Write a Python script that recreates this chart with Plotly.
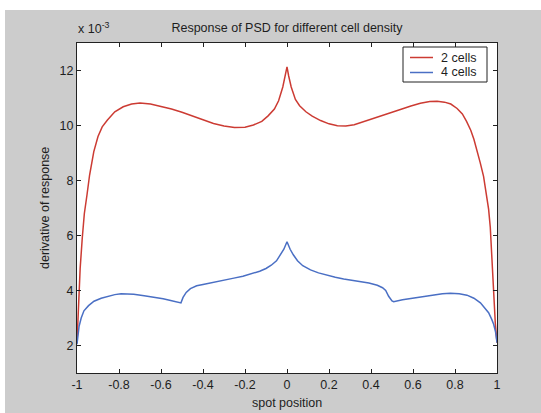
import plotly.graph_objects as go

# ---- data (values in units of 1e-3) ----
red_x = [-1.0, -0.993, -0.985, -0.975, -0.965, -0.952, -0.94, -0.92, -0.9, -0.88,
         -0.855, -0.82, -0.78, -0.74, -0.70, -0.65, -0.60, -0.55, -0.50, -0.45,
         -0.40, -0.35, -0.30, -0.25, -0.20, -0.16, -0.12, -0.09, -0.06, -0.04,
         -0.02, -0.008, 0.0, 0.008, 0.02, 0.04, 0.06, 0.09, 0.12, 0.16,
         0.20, 0.24, 0.28, 0.32, 0.37, 0.43, 0.49, 0.54, 0.59, 0.635,
         0.68, 0.715, 0.75, 0.78, 0.81, 0.835, 0.855, 0.875, 0.89, 0.905,
         0.92, 0.936, 0.95, 0.96, 0.968, 0.976, 0.984, 0.992, 1.0]
red_y = [2.1, 3.5, 4.8, 5.9, 6.8, 7.5, 8.2, 9.05, 9.6, 9.95,
         10.2, 10.5, 10.68, 10.78, 10.82, 10.78, 10.7, 10.6, 10.48, 10.34,
         10.2, 10.07, 9.98, 9.93, 9.94, 10.02, 10.15, 10.35, 10.6, 10.9,
         11.4, 11.8, 12.13, 11.8, 11.4, 10.95, 10.72, 10.5, 10.34, 10.18,
         10.06, 9.99, 9.98, 10.03, 10.15, 10.3, 10.45, 10.58, 10.71, 10.81,
         10.87, 10.88, 10.85, 10.78, 10.62, 10.42, 10.15, 9.83, 9.5, 9.1,
         8.65, 8.15, 7.5, 6.96, 6.3, 5.0, 3.9, 2.8, 2.1]

blue_x = [-1.0, -0.995, -0.99, -0.98, -0.967, -0.945, -0.919, -0.885, -0.855, -0.82,
          -0.79, -0.73, -0.68, -0.634, -0.59, -0.554, -0.52, -0.505, -0.495, -0.48,
          -0.46, -0.43, -0.40, -0.364, -0.33, -0.29, -0.253, -0.21, -0.17, -0.13,
          -0.10, -0.075, -0.05, -0.03, -0.015, 0.0, 0.015, 0.03, 0.05, 0.075,
          0.112, 0.15, 0.19, 0.23, 0.27, 0.31, 0.35, 0.39, 0.43, 0.455,
          0.47, 0.484, 0.50, 0.508, 0.55, 0.59, 0.64, 0.698, 0.74, 0.778,
          0.82, 0.857, 0.89, 0.921, 0.945, 0.96, 0.975, 0.984, 0.993, 1.0]
blue_y = [2.05, 2.5, 2.7, 3.0, 3.26, 3.45, 3.61, 3.72, 3.79, 3.85,
          3.88, 3.86, 3.81, 3.76, 3.7, 3.64, 3.56, 3.55, 3.75, 3.93,
          4.07, 4.17, 4.22, 4.27, 4.32, 4.38, 4.45, 4.52, 4.6, 4.7,
          4.8, 4.92, 5.08, 5.3, 5.5, 5.77, 5.5, 5.3, 5.08, 4.9,
          4.75, 4.64, 4.55, 4.48, 4.42, 4.37, 4.32, 4.27, 4.19, 4.1,
          4.0, 3.79, 3.62, 3.59, 3.66, 3.71, 3.77, 3.83, 3.88, 3.9,
          3.88, 3.83, 3.72, 3.55, 3.35, 3.19, 2.95, 2.77, 2.5, 2.1]

series_names = ["2 cells", "4 cells"]
series_colors = ["#cc3b33", "#4a6fc4"]
x_tickvals = [-1, -0.8, -0.6, -0.4, -0.2, 0, 0.2, 0.4, 0.6, 0.8, 1]
x_ticktext = ["-1", "-0.8", "-0.6", "-0.4", "-0.2", "0", "0.2", "0.4", "0.6", "0.8", "1"]
y_tickvals = [2, 4, 6, 8, 10, 12]
y_ticktext = ["2", "4", "6", "8", "10", "12"]

title_text = "Response of PSD for different cell density"
xlabel = "spot position"
ylabel = "derivative of response"
multiplier = "x 10<sup>-3</sup>"

# ---- figure ----
FONT = "Liberation Sans, Arial, sans-serif"
TXT = "#1e1e1e"
GRAY = "#cccccc"
W, H = 541, 413
ML, MR, MT, MB = 77, 44, 43, 40
PW, PH = W - ML - MR, H - MT - MB

def px_x(p):
    return (p - ML) / PW

def px_y(p):
    return 1 - (p - MT) / PH

fig = go.Figure()
for xs, ys, nm, col in [(red_x, red_y, series_names[0], series_colors[0]),
                        (blue_x, blue_y, series_names[1], series_colors[1])]:
    fig.add_trace(go.Scatter(x=xs, y=ys, mode="lines", name=nm, showlegend=False,
                             line=dict(color=col, width=1.5)))

axis_common = dict(showline=True, linecolor="#222222", linewidth=1, mirror="ticks",
                   ticks="inside", ticklen=4, tickcolor="#222222", showgrid=False,
                   zeroline=False, tickfont=dict(family=FONT, size=12.5, color=TXT))
fig.update_xaxes(range=[-1, 1], tickvals=x_tickvals, ticktext=x_ticktext, **axis_common)
fig.update_yaxes(range=[1, 13], tickvals=y_tickvals, ticktext=y_ticktext, **axis_common)

fig.update_layout(
    width=W, height=H,
    margin=dict(l=ML, r=MR, t=MT, b=MB),
    paper_bgcolor=GRAY, plot_bgcolor="white",
    font=dict(family=FONT, size=12.5, color=TXT),
    title=dict(text=title_text, x=0.5, xref="paper", y=1 - 28 / H, yref="container",
               xanchor="center", yanchor="middle",
               font=dict(family=FONT, size=12.5, color=TXT)),
    showlegend=False,
)

# scan borders (white strips)
fig.add_shape(type="rect", xref="paper", yref="paper", layer="below",
              x0=px_x(0), x1=px_x(W), y0=px_y(10), y1=px_y(0),
              fillcolor="white", line=dict(width=0))
fig.add_shape(type="rect", xref="paper", yref="paper", layer="below",
              x0=px_x(0), x1=px_x(5), y0=px_y(H), y1=px_y(0),
              fillcolor="white", line=dict(width=0))

# legend box (MATLAB style)
fig.add_shape(type="rect", xref="paper", yref="paper", layer="above",
              x0=px_x(403), x1=px_x(487), y0=px_y(82), y1=px_y(47),
              fillcolor="white", line=dict(color="#222222", width=1))
for i, (nm, col) in enumerate(zip(series_names, series_colors)):
    yy = 57.5 + 15 * i
    fig.add_shape(type="line", xref="paper", yref="paper", layer="above",
                  x0=px_x(410), x1=px_x(433), y0=px_y(yy), y1=px_y(yy),
                  line=dict(color=col, width=1.5))
    fig.add_annotation(text=nm, xref="paper", yref="paper", x=px_x(439), y=px_y(yy),
                       xanchor="left", yanchor="middle", showarrow=False,
                       font=dict(family=FONT, size=12.5, color=TXT))

fig.add_annotation(text=multiplier, xref="paper", yref="paper", x=px_x(76), y=px_y(38),
                   xanchor="left", yanchor="bottom", showarrow=False,
                   font=dict(family=FONT, size=12.5, color=TXT))
fig.add_annotation(text=xlabel, xref="paper", yref="paper", x=0.5, y=px_y(403),
                   xanchor="center", yanchor="middle", showarrow=False,
                   font=dict(family=FONT, size=12.5, color=TXT))
fig.add_annotation(text=ylabel, xref="paper", yref="paper", x=px_x(45), y=px_y(208),
                   xanchor="center", yanchor="middle", showarrow=False, textangle=-90,
                   font=dict(family=FONT, size=12.5, color=TXT))

fig.write_html("out.html")
